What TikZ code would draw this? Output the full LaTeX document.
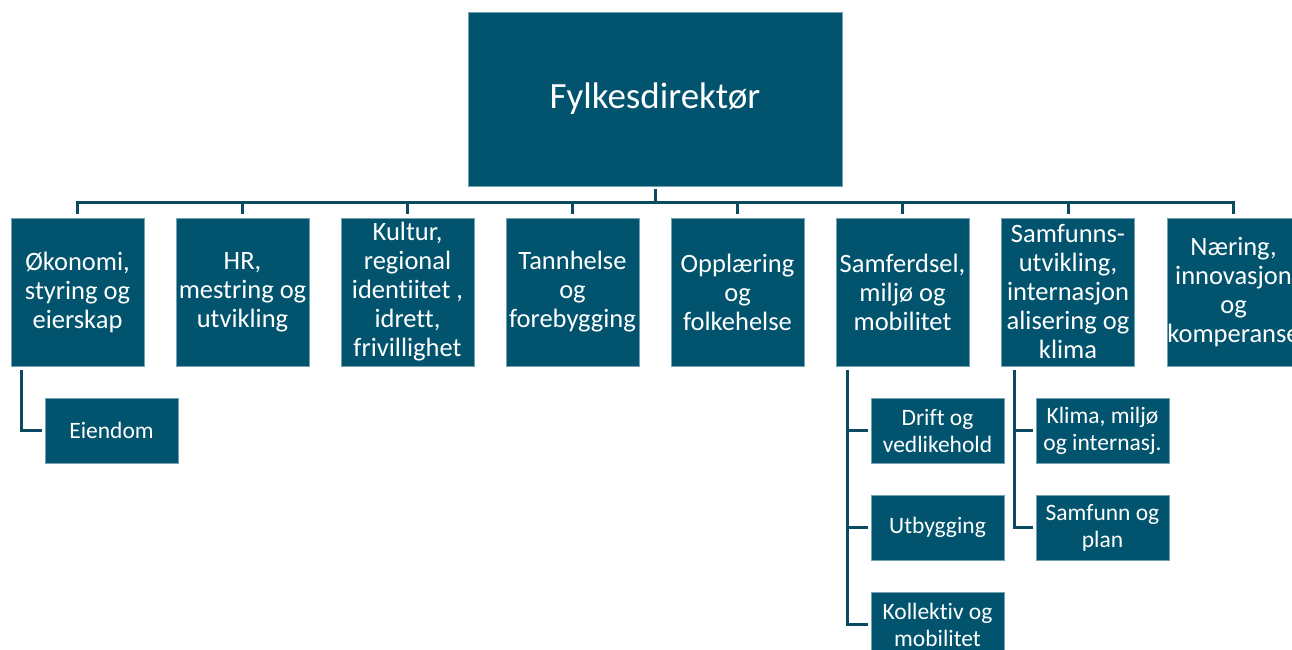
\documentclass[tikz,border=0pt]{standalone}
\usepackage{fontspec}
\setmainfont{Carlito}[Ligatures=CommonOff]
\usepackage{xcolor}
\usetikzlibrary{positioning}
\definecolor{boxteal}{HTML}{02546E}
\definecolor{linkteal}{HTML}{0B4B62}
\tikzset{
  unit/.style={draw=boxteal!55!white,line width=0.6pt,fill=boxteal,text=white,align=center,inner sep=0pt},
  head/.style={unit,minimum width=374,minimum height=174,font=\fontsize{37}{42}\selectfont},
  dept/.style={unit,minimum width=133,minimum height=148,font=\fontsize{26.5}{29}\selectfont},
  sub/.style={unit,minimum width=133,minimum height=65,font=\fontsize{23.5}{27}\selectfont},
  link/.style={draw=linkteal,line width=3pt}
}
\begin{document}
\begin{tikzpicture}[x=1pt,y=-1pt]
  \useasboundingbox (0,0) rectangle (1292,650);

  \node (fd) [head] at (655,99) {Fylkesdirektør};

  % avdelinger
  \node (okon) [dept] at (77.5,292) {Økonomi,\\styring og\\eierskap};
  \node (hr) [dept] at (242.5,292) {HR,\\mestring og\\utvikling};
  \node (kultur) [dept] at (407.5,292) {Kultur,\\regional\\identiitet ,\\idrett,\\frivillighet};
  \node (tann) [dept] at (572.5,292) {Tannhelse\\og\\forebygging};
  \node (oppl) [dept] at (737.5,292) {Opplæring\\og\\folkehelse};
  \node (samf) [dept] at (902.5,292) {Samferdsel,\\miljø og\\mobilitet};
  \node (sutv) [dept] at (1068,292) {Samfunns-\\utvikling,\\internasjon\\alisering og\\klima};
  \node (naer) [dept] at (1233.5,292) {Næring,\\innovasjon\\og\\komperanse};

  % seksjoner
  \node (eiendom) [sub] at (111.5,430.5) {Eiendom};
  \node (drift) [sub] at (937.5,430.5) {Drift og\\vedlikehold};
  \node (utbygg) [sub] at (937.5,527.5) {Utbygging};
  \node (koll) [sub] at (937.5,624.5) {Kollektiv og\\mobilitet};
  \node (klima) [sub] at (1102.5,430.5) {Klima, miljø\\og internasj.};
  \node (plan) [sub] at (1102.5,527.5) {Samfunn og\\plan};

  \coordinate (bar) at (655,202);
  \draw[link,shorten <=3pt] (fd.south) -- (bar);
  \foreach \d in {okon,hr,kultur,tann,oppl,samf,sutv,naer}
    \draw[link,shorten >=4pt] (bar) -| (\d.north);

  \draw[link,shorten <=4pt,shorten >=3pt] ([xshift=11pt]okon.south west) |- (eiendom.west);
  \foreach \s in {drift,utbygg,koll}
    \draw[link,shorten <=4pt,shorten >=3pt] ([xshift=12pt]samf.south west) |- (\s.west);
  \foreach \s in {klima,plan}
    \draw[link,shorten <=4pt,shorten >=3pt] ([xshift=13pt]sutv.south west) |- (\s.west);
\end{tikzpicture}
\end{document}
